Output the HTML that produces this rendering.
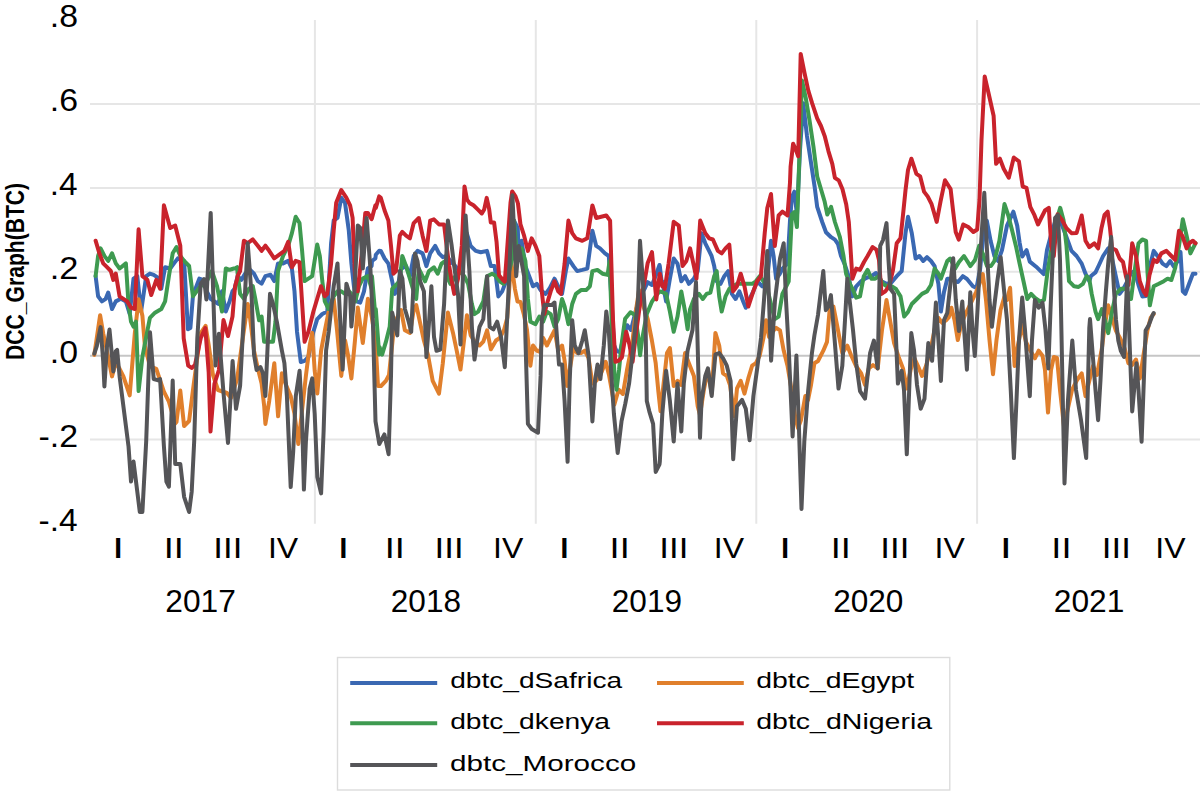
<!DOCTYPE html>
<html><head><meta charset="utf-8"><style>
html,body{margin:0;padding:0;background:#fff;width:1200px;height:791px;overflow:hidden}
svg{display:block}
text{font-family:"Liberation Sans",sans-serif;fill:#000}
</style></head><body>
<svg width="1200" height="791" viewBox="0 0 1200 791">
<line x1="90" y1="104.0" x2="1200" y2="104.0" stroke="#e6e6e6" stroke-width="2"/>
<line x1="90" y1="187.9" x2="1200" y2="187.9" stroke="#e6e6e6" stroke-width="2"/>
<line x1="90" y1="271.8" x2="1200" y2="271.8" stroke="#e6e6e6" stroke-width="2"/>
<line x1="90" y1="439.6" x2="1200" y2="439.6" stroke="#e6e6e6" stroke-width="2"/>
<line x1="314.9" y1="20" x2="314.9" y2="523.8" stroke="#e6e6e6" stroke-width="2"/>
<line x1="535.8" y1="20" x2="535.8" y2="523.8" stroke="#e6e6e6" stroke-width="2"/>
<line x1="756.3" y1="20" x2="756.3" y2="523.8" stroke="#e6e6e6" stroke-width="2"/>
<line x1="977.1" y1="20" x2="977.1" y2="523.8" stroke="#e6e6e6" stroke-width="2"/>
<line x1="90" y1="355.7" x2="1200" y2="355.7" stroke="#c6c6c6" stroke-width="2"/>
<path d="M95.6,276.1 L98.1,296.3 L101.9,301.4 L105.7,298.8 L108.2,292.5 L112.0,309.0 L115.8,301.4 L120.9,298.8 L125.9,301.4 L129.7,314.0 L133.5,278.6 L137.3,276.1 L141.1,311.5 L146.2,276.1 L149.9,273.6 L153.7,274.8 L157.5,277.3 L161.3,288.7 L165.1,267.2 L170.2,268.5 L174.0,263.4 L177.8,258.4 L184.1,260.9 L187.9,329.2 L190.4,327.9 L192.9,296.3 L195.5,288.7 L199.3,278.6 L203.0,279.9 L206.8,291.3 L210.6,298.8 L214.4,301.4 L218.2,303.9 L222.0,291.3 L225.8,311.5 L229.6,301.4 L232.5,291.3 L234.6,288.7 L237.6,276.1 L241.4,279.9 L245.2,273.6 L250.2,269.8 L254.0,273.6 L257.8,281.1 L261.6,283.7 L265.4,276.1 L270.5,274.8 L274.2,281.1 L278.0,263.4 L283.1,263.4 L288.2,260.9 L291.9,268.5 L294.5,291.3 L297.0,331.7 L300.8,362.0 L304.6,360.8 L308.4,357.0 L313.4,331.7 L317.2,319.1 L322.3,314.0 L327.3,311.5 L331.1,243.2 L333.7,220.5 L337.5,217.9 L341.3,197.7 L345.0,202.8 L348.8,230.6 L351.4,263.4 L353.9,286.2 L356.4,301.4 L360.2,302.6 L364.0,291.3 L367.8,268.5 L371.6,266.0 L372.0,261.0 L375.4,258.4 L375.8,254.7 L379.2,250.8 L380.8,250.9 L384.6,258.5 L388.4,263.6 L392.2,281.3 L394.8,293.9 L397.3,288.8 L401.1,268.6 L406.1,266.1 L409.9,276.2 L413.7,256.0 L417.5,250.9 L422.6,253.4 L426.4,266.1 L430.2,253.4 L435.2,245.9 L439.0,253.4 L442.8,257.2 L446.6,256.0 L450.4,261.0 L455.4,266.1 L459.2,271.1 L463.0,245.9 L466.8,233.2 L470.6,245.9 L475.7,250.9 L480.7,252.2 L487.0,250.9 L490.8,266.1 L494.6,266.1 L498.4,296.4 L502.2,291.4 L506.0,281.3 L509.8,261.0 L513.6,256.0 L514.0,220.6 L517.8,228.2 L518.6,253.4 L521.6,240.8 L525.4,266.1 L529.2,276.2 L533.0,286.3 L536.8,283.8 L540.5,290.1 L545.6,293.9 L549.4,288.8 L554.5,278.7 L558.2,286.3 L562.0,293.9 L565.8,271.1 L568.4,258.5 L573.4,266.1 L577.2,271.1 L582.3,269.9 L587.3,268.6 L592.4,230.7 L596.2,245.9 L600.0,248.4 L605.0,253.4 L608.8,256.0 L611.3,296.4 L614.0,345.0 L616.5,351.0 L620.0,352.0 L624.0,335.0 L627.2,325.2 L631.0,330.0 L636.0,310.0 L641.0,295.0 L645.0,288.0 L647.7,282.2 L652.0,285.0 L656.0,275.0 L659.5,265.0 L659.8,266.1 L662.0,285.0 L662.3,281.3 L666.1,301.5 L669.9,278.7 L673.7,258.5 L677.5,263.6 L681.3,281.3 L685.1,276.2 L688.9,283.8 L693.9,278.7 L697.7,271.1 L701.5,233.2 L705.3,243.3 L709.1,250.9 L711.6,256.0 L714.2,266.1 L716.7,281.3 L720.5,283.8 L724.3,276.2 L728.1,271.1 L731.9,293.9 L735.6,299.0 L739.4,291.4 L743.2,301.5 L745.8,307.8 L749.6,299.0 L753.3,291.4 L757.1,281.3 L762.2,286.3 L767.3,278.7 L771.0,240.8 L773.6,256.0 L776.1,278.7 L779.9,273.7 L782.4,268.6 L787.5,263.6 L790.0,220.6 L791.9,196.8 L794.4,191.7 L797.0,215.0 L800.0,150.0 L803.2,103.2 L807.0,136.1 L810.8,161.4 L814.6,186.6 L817.2,206.9 L822.2,222.0 L826.0,232.2 L831.1,237.2 L834.9,239.7 L838.0,244.0 L841.0,256.0 L845.0,265.0 L848.6,276.2 L852.4,296.4 L856.2,286.3 L861.2,281.2 L866.0,278.0 L871.4,276.2 L876.0,273.0 L881.5,281.2 L886.5,283.8 L891.0,283.0 L896.7,276.2 L901.7,271.1 L905.5,233.2 L908.0,216.8 L911.8,233.2 L915.6,258.5 L919.4,256.0 L923.2,261.0 L927.0,257.2 L931.0,261.0 L934.6,266.1 L938.4,283.8 L940.9,311.6 L944.0,292.0 L947.3,278.7 L950.1,278.7 L955.0,281.0 L958.0,282.0 L962.8,276.2 L967.0,279.0 L972.9,286.3 L976.5,288.0 L980.0,270.0 L983.0,240.0 L986.8,220.6 L990.6,240.8 L994.4,256.0 L998.2,261.0 L1002.0,250.0 L1007.0,225.6 L1013.4,211.7 L1017.2,225.6 L1019.6,242.6 L1022.2,256.5 L1026.6,250.2 L1029.8,261.6 L1036.1,266.7 L1043.7,274.2 L1047.0,250.0 L1051.0,235.0 L1055.0,222.0 L1058.5,215.0 L1062.0,225.0 L1067.8,240.8 L1071.5,250.9 L1076.6,256.0 L1081.7,263.6 L1085.5,273.7 L1089.3,281.2 L1091.0,276.0 L1095.5,272.4 L1099.0,265.0 L1103.1,256.0 L1108.2,248.4 L1111.5,256.0 L1115.5,275.0 L1119.6,293.9 L1123.4,288.8 L1127.0,282.0 L1131.0,273.0 L1134.7,271.1 L1138.5,285.0 L1142.3,296.4 L1146.0,296.0 L1149.9,266.0 L1153.7,250.9 L1157.5,256.0 L1162.6,263.6 L1166.4,266.1 L1170.2,261.0 L1174.0,267.0 L1177.8,261.0 L1180.5,252.0 L1182.8,291.4 L1185.3,293.9 L1189.1,283.8 L1192.9,273.7 L1195.5,273.7" fill="none" stroke="#3a68b2" stroke-width="4.0" stroke-linejoin="round" stroke-linecap="round"/>
<path d="M94.3,354.9 L100.1,315.2 L103.2,333.4 L107.0,351.1 L112.0,376.4 L115.8,362.5 L119.6,368.8 L123.4,376.4 L129.7,395.4 L134.8,333.4 L138.6,299.3 L142.4,315.7 L144.9,346.1 L149.9,366.3 L156.3,368.8 L163.9,391.6 L168.9,401.7 L175.2,423.4 L176.5,421.9 L180.3,390.6 L184.1,426.0 L189.1,421.0 L192.9,390.6 L200.5,333.4 L205.6,325.9 L208.7,345.0 L213.0,375.0 L218.0,390.0 L226.9,393.0 L231.0,398.0 L237.1,379.2 L242.8,338.3 L247.7,303.9 L250.2,319.0 L254.0,350.6 L257.8,368.3 L261.6,383.4 L264.2,406.2 L265.4,423.9 L269.2,401.1 L274.3,363.2 L278.1,416.3 L281.9,373.3 L286.0,385.0 L290.7,396.0 L294.5,413.8 L298.3,444.1 L305.9,375.9 L309.7,345.5 L312.2,332.9 L314.7,370.8 L317.3,393.6 L321.1,350.6 L324.9,330.3 L328.7,311.5 L333.7,298.8 L337.0,330.0 L341.3,375.9 L345.1,340.5 L348.0,355.0 L351.4,378.4 L355.0,340.0 L357.8,307.6 L362.8,343.0 L367.9,298.8 L371.7,316.5 L375.5,341.8 L378.0,386.0 L381.0,386.0 L385.9,380.9 L389.0,375.0 L393.5,331.8 L397.0,318.0 L401.1,310.1 L404.9,330.3 L410.0,332.9 L413.7,310.1 L416.3,305.1 L420.1,322.8 L423.9,340.5 L428.0,355.0 L432.7,380.9 L439.0,393.6 L442.8,363.2 L447.9,312.6 L453.0,332.9 L456.7,350.6 L460.5,369.5 L464.3,337.9 L466.9,315.2 L470.7,335.4 L475.0,342.0 L479.5,345.5 L483.3,341.7 L487.1,330.3 L490.9,349.3 L496.0,340.5 L499.8,337.9 L504.0,330.0 L507.3,317.7 L511.1,261.0 L514.9,288.8 L517.5,301.5 L520.5,302.0 L524.0,315.0 L527.0,330.0 L530.4,365.7 L533.0,345.5 L536.8,350.6 L540.0,352.0 L543.1,337.9 L546.9,345.5 L550.7,337.9 L554.5,330.3 L558.3,350.6 L562.1,345.5 L564.6,360.7 L567.1,386.0 L570.0,368.0 L573.4,348.0 L577.2,353.1 L581.0,353.1 L584.8,350.6 L588.6,358.2 L592.4,383.4 L596.2,380.9 L600.0,375.9 L605.7,361.8 L609.0,375.0 L614.3,404.7 L618.6,389.7 L622.9,394.0 L627.0,370.0 L632.0,345.0 L636.0,310.0 L639.1,290.0 L643.0,305.0 L647.7,318.8 L651.9,340.5 L655.7,363.2 L658.4,391.8 L660.5,411.2 L664.0,380.0 L667.0,353.0 L669.9,348.0 L673.7,386.0 L677.5,380.9 L681.0,385.0 L685.1,353.1 L688.9,363.2 L693.9,375.9 L697.7,406.2 L700.0,415.0 L704.1,388.5 L708.0,370.0 L711.7,393.6 L715.4,332.9 L719.2,345.5 L723.0,373.3 L726.8,375.9 L730.0,385.0 L734.4,416.3 L737.0,388.5 L740.7,380.9 L744.5,393.6 L748.3,378.4 L752.1,365.7 L755.9,363.2 L759.7,355.6 L763.5,337.9 L766.0,320.2 L769.0,337.0 L772.0,332.0 L776.2,327.8 L780.0,330.3 L783.7,350.6 L787.5,365.7 L791.3,388.5 L795.1,416.3 L798.0,428.0 L801.0,420.0 L805.3,396.0 L808.0,400.0 L811.0,385.0 L814.4,363.3 L818.0,361.0 L823.3,350.7 L827.0,341.9 L829.6,310.2 L833.4,306.5 L837.0,325.0 L842.3,353.2 L847.3,345.6 L851.0,355.0 L856.0,366.0 L861.2,373.4 L865.0,385.0 L868.8,368.4 L873.0,365.0 L877.7,368.4 L882.0,330.0 L886.5,300.1 L890.0,320.0 L894.1,343.1 L899.0,358.0 L903.0,368.4 L906.8,388.6 L910.6,370.0 L914.4,358.3 L918.0,366.0 L922.0,376.0 L926.0,366.0 L930.0,352.0 L935.0,328.0 L938.5,318.0 L942.2,322.9 L946.0,320.3 L948.7,317.4 L951.4,307.7 L954.5,320.0 L957.8,340.1 L961.0,325.0 L965.0,315.0 L970.0,305.0 L976.0,292.3 L979.0,285.0 L982.8,274.1 L986.0,300.0 L989.5,340.0 L993.0,374.3 L996.5,340.0 L1000.5,310.0 L1004.4,296.9 L1007.0,300.0 L1010.1,287.8 L1012.5,330.0 L1014.6,365.9 L1018.0,345.0 L1022.0,325.0 L1026.0,342.0 L1030.0,350.0 L1034.9,358.3 L1038.7,350.7 L1042.5,355.7 L1045.0,370.0 L1048.0,412.6 L1051.0,370.0 L1053.8,357.0 L1057.0,358.0 L1060.0,390.0 L1064.0,426.5 L1068.0,408.0 L1072.0,390.0 L1077.0,380.0 L1081.7,373.4 L1085.5,396.2 L1089.5,380.0 L1093.0,365.9 L1097.0,375.0 L1101.9,348.2 L1104.4,327.9 L1108.2,305.2 L1112.0,318.0 L1115.8,330.5 L1120.0,338.0 L1124.6,348.2 L1128.4,363.3 L1132.0,365.0 L1136.0,359.5 L1139.8,378.5 L1143.5,355.0 L1147.4,330.5 L1150.7,317.8 L1153.7,314.0" fill="none" stroke="#e07f2c" stroke-width="4.0" stroke-linejoin="round" stroke-linecap="round"/>
<path d="M95.6,276.1 L98.1,255.9 L100.6,248.3 L104.4,255.9 L108.2,260.9 L112.0,253.3 L115.8,263.4 L119.6,268.5 L125.9,263.4 L128.5,303.9 L131.0,321.6 L133.5,326.6 L136.0,321.6 L138.6,391.1 L142.4,357.0 L146.2,336.8 L149.9,317.8 L155.0,312.7 L161.3,309.0 L165.1,301.4 L168.9,276.1 L172.7,253.3 L176.5,247.0 L180.3,255.9 L184.1,260.9 L189.1,266.0 L192.9,296.3 L196.7,291.3 L200.5,286.2 L205.6,283.7 L211.9,271.0 L217.0,286.2 L222.0,311.5 L225.8,268.5 L229.6,269.8 L232.5,269.0 L233.4,268.5 L235.1,268.5 L237.2,267.2 L237.6,273.6 L240.1,293.8 L243.9,298.8 L249.0,288.7 L252.8,286.2 L255.3,298.8 L259.1,320.3 L261.6,316.5 L264.1,341.8 L269.2,341.8 L273.0,341.8 L275.5,321.6 L278.0,271.0 L283.1,255.9 L288.2,245.7 L291.9,233.1 L295.7,216.7 L299.5,223.0 L302.1,250.8 L304.6,281.1 L308.4,278.6 L312.2,276.1 L317.2,244.5 L319.8,255.9 L322.3,281.1 L324.8,301.4 L328.6,309.0 L333.7,296.3 L337.5,291.3 L341.3,291.3 L345.0,293.8 L348.8,291.3 L351.4,293.8 L355.2,301.4 L359.0,286.2 L362.7,278.6 L367.8,276.1 L371.6,288.7 L372.0,276.2 L375.4,316.5 L375.8,309.1 L379.2,354.5 L379.6,347.0 L382.1,354.6 L385.9,341.9 L389.7,326.8 L392.2,288.8 L396.0,285.0 L399.8,281.3 L402.3,256.0 L406.1,266.1 L409.9,278.7 L413.7,291.4 L416.2,299.0 L418.8,268.6 L421.3,273.7 L425.1,281.3 L428.9,271.1 L433.9,267.3 L437.7,273.7 L441.5,263.6 L445.3,261.0 L447.9,278.7 L450.4,283.8 L455.4,276.2 L459.2,271.1 L464.3,276.2 L468.1,283.8 L471.9,304.0 L474.4,314.1 L478.2,311.6 L483.3,301.5 L487.0,276.2 L492.1,273.7 L495.9,276.2 L499.7,281.3 L503.5,283.8 L508.5,273.7 L512.3,258.5 L514.0,220.6 L517.4,258.5 L521.6,248.4 L525.4,261.0 L527.9,299.0 L530.4,321.7 L535.5,324.2 L539.3,316.6 L543.1,321.7 L546.9,311.6 L550.7,314.1 L554.5,326.8 L558.2,319.2 L562.0,299.0 L564.6,306.5 L568.4,324.2 L572.2,304.0 L575.9,293.9 L581.0,290.1 L586.1,290.1 L589.9,286.3 L592.4,271.1 L597.4,269.9 L602.5,273.7 L607.6,274.9 L609.6,261.0 L612.0,330.0 L614.5,375.0 L616.5,389.7 L619.0,370.0 L621.5,345.0 L625.1,318.8 L630.5,312.3 L635.0,315.0 L638.0,335.0 L640.1,355.3 L642.0,340.0 L646.6,314.5 L652.0,301.6 L656.3,295.1 L659.8,291.4 L662.0,292.0 L666.1,293.9 L669.9,311.6 L673.7,331.8 L677.5,316.6 L681.3,291.4 L685.1,311.6 L687.6,329.3 L690.1,309.1 L693.9,299.0 L699.0,293.9 L702.8,299.0 L706.6,293.9 L710.4,292.6 L714.2,276.2 L716.7,271.1 L719.2,296.4 L721.7,311.6 L725.5,296.4 L729.3,288.8 L733.1,286.3 L736.9,283.8 L740.7,283.8 L744.5,283.8 L748.3,283.8 L752.1,283.8 L755.9,281.3 L759.7,276.2 L763.5,281.3 L767.3,288.8 L771.0,304.0 L774.8,319.2 L778.6,316.6 L782.4,293.9 L785.0,288.8 L788.7,281.3 L791.9,214.5 L794.4,212.0 L796.9,227.1 L799.4,156.3 L802.0,80.5 L805.8,98.2 L809.6,120.9 L813.4,146.2 L817.2,176.5 L821.0,189.2 L824.7,201.8 L827.3,214.5 L831.1,206.9 L834.9,222.0 L839.9,237.2 L843.5,256.0 L846.1,273.7 L849.9,283.8 L853.0,290.0 L856.2,297.7 L860.0,296.4 L863.8,276.2 L867.6,269.9 L871.4,278.7 L875.2,278.7 L879.0,276.0 L882.7,283.8 L886.5,286.0 L891.6,286.3 L896.0,289.0 L900.5,296.4 L904.2,316.6 L908.0,312.0 L911.8,304.0 L916.9,299.0 L922.0,293.9 L927.0,291.4 L931.0,285.0 L934.6,268.6 L938.0,273.0 L940.9,278.7 L944.0,270.0 L947.3,261.0 L950.1,258.5 L955.2,268.6 L959.0,262.0 L964.0,256.0 L970.4,266.1 L975.0,260.0 L979.2,245.9 L983.0,254.0 L987.0,266.0 L991.0,266.0 L994.4,261.0 L999.4,240.8 L1004.5,204.1 L1008.3,215.5 L1012.0,230.0 L1015.9,245.9 L1019.5,263.0 L1023.5,281.2 L1027.3,299.0 L1031.1,293.9 L1035.0,298.0 L1040.0,301.5 L1044.0,300.0 L1047.5,272.0 L1052.0,245.0 L1056.0,222.0 L1060.2,207.9 L1063.5,220.0 L1066.5,246.0 L1069.0,281.2 L1074.1,286.3 L1078.5,287.0 L1082.9,283.8 L1086.7,276.2 L1089.3,279.0 L1091.7,293.9 L1095.5,311.6 L1098.1,319.2 L1101.9,309.1 L1105.0,320.0 L1108.2,333.1 L1112.0,312.0 L1115.8,293.9 L1120.8,288.8 L1126.0,288.8 L1131.0,299.0 L1134.5,272.0 L1138.5,243.3 L1142.3,239.5 L1146.1,240.8 L1147.5,272.0 L1149.9,305.3 L1153.7,286.3 L1158.8,283.8 L1163.8,281.2 L1167.6,278.7 L1171.4,280.0 L1175.2,268.0 L1179.0,245.9 L1182.8,219.3 L1186.6,235.7 L1190.4,253.4 L1194.2,245.9 L1195.5,243.0" fill="none" stroke="#3e9a50" stroke-width="4.0" stroke-linejoin="round" stroke-linecap="round"/>
<path d="M95.6,240.7 L99.4,253.3 L103.2,263.4 L107.0,267.2 L110.8,271.0 L113.3,279.9 L115.8,273.6 L119.6,296.3 L123.4,298.8 L127.2,301.4 L131.0,307.7 L134.8,309.0 L138.6,229.3 L142.4,276.1 L147.4,279.9 L151.2,295.0 L156.3,279.9 L160.1,288.7 L163.9,205.3 L170.2,228.0 L175.2,225.5 L180.3,245.7 L183.7,338.3 L188.2,365.6 L191.6,367.9 L195.0,365.0 L200.7,338.3 L205.3,328.0 L208.7,372.4 L210.5,431.6 L214.4,383.8 L218.9,370.0 L223.5,320.0 L228.0,336.0 L232.5,316.5 L233.7,301.9 L235.1,286.2 L237.1,279.1 L237.6,276.1 L240.1,271.0 L243.9,240.7 L247.7,243.2 L252.8,239.4 L257.8,245.7 L261.6,250.8 L265.4,245.7 L269.2,250.8 L274.2,258.4 L279.3,254.6 L284.4,250.8 L288.2,241.9 L291.9,267.2 L295.7,260.9 L299.5,262.2 L304.6,341.8 L308.4,331.7 L313.4,311.5 L317.2,298.8 L321.0,286.2 L324.8,296.3 L327.3,293.8 L331.1,263.4 L333.7,230.6 L336.2,202.8 L341.3,190.1 L346.3,197.7 L350.1,205.3 L352.6,217.9 L355.2,281.1 L357.7,291.3 L361.5,255.9 L365.3,212.9 L367.8,212.9 L371.6,219.2 L372.0,218.0 L375.4,205.3 L375.8,207.9 L379.2,196.4 L380.8,197.8 L384.6,210.5 L388.4,220.6 L391.0,245.9 L393.5,273.7 L396.0,271.1 L399.8,235.7 L402.3,231.9 L406.1,235.7 L409.9,238.3 L413.7,223.1 L418.8,218.0 L422.6,235.7 L426.4,250.9 L430.2,220.6 L433.9,219.3 L439.0,224.4 L444.1,224.4 L446.6,245.9 L449.2,266.1 L451.7,281.2 L454.2,293.9 L458.0,278.7 L461.8,245.9 L464.5,186.4 L467.0,199.6 L469.4,202.9 L473.5,205.3 L477.7,209.4 L481.8,213.5 L484.2,209.4 L486.7,197.9 L489.2,209.4 L490.8,222.6 L494.1,222.6 L496.6,242.3 L499.0,275.2 L502.3,279.3 L504.8,281.7 L510.5,202.9 L512.2,191.4 L515.5,196.3 L517.8,202.9 L517.9,202.9 L520.3,223.1 L520.4,224.2 L524.1,235.7 L527.9,250.9 L531.7,238.3 L535.5,245.9 L539.3,256.0 L541.8,291.4 L544.3,314.1 L546.9,304.0 L550.7,291.4 L554.5,281.3 L558.2,291.4 L560.8,293.9 L564.6,263.6 L568.4,220.6 L572.2,233.2 L575.9,238.3 L582.3,240.8 L587.3,238.3 L592.4,205.4 L596.2,218.0 L601.2,216.8 L606.3,215.5 L610.1,220.6 L613.0,320.0 L615.4,361.8 L618.6,360.7 L621.9,357.5 L626.2,331.7 L629.4,344.6 L632.6,361.8 L636.5,330.0 L640.1,303.7 L644.4,282.2 L647.7,262.9 L652.0,252.1 L654.0,275.0 L656.3,299.4 L659.5,275.8 L659.8,273.7 L662.3,286.3 L663.0,285.0 L664.8,288.8 L668.6,263.6 L673.7,221.8 L678.8,225.6 L682.5,266.1 L686.3,261.0 L690.1,248.4 L693.9,266.1 L696.5,278.7 L700.2,220.6 L705.3,233.2 L709.1,238.3 L712.9,239.5 L717.9,250.9 L721.7,253.4 L725.5,248.4 L729.3,244.6 L733.1,291.4 L736.9,286.3 L740.7,273.7 L744.5,286.3 L748.3,306.5 L753.3,291.4 L757.1,281.3 L760.9,276.2 L764.7,233.2 L767.3,207.9 L771.0,194.0 L774.8,245.9 L778.6,215.5 L782.4,211.7 L787.5,215.5 L790.0,182.6 L790.6,166.4 L793.1,143.7 L796.0,150.0 L798.2,156.3 L800.7,53.9 L804.5,72.9 L808.3,90.6 L812.1,103.2 L817.2,118.4 L821.0,126.0 L824.7,136.1 L828.5,151.3 L832.3,163.9 L834.9,177.8 L838.7,180.3 L842.5,189.2 L846.2,204.3 L848.8,222.0 L850.0,239.7 L852.4,278.7 L856.2,268.6 L860.0,269.9 L864.0,262.0 L867.6,256.0 L872.6,247.1 L876.4,249.6 L879.0,260.0 L881.5,293.9 L885.3,291.4 L889.1,286.3 L893.0,270.0 L896.7,243.3 L900.5,238.3 L903.0,215.0 L905.5,190.2 L908.0,170.0 L911.4,158.7 L916.4,173.9 L920.2,176.4 L924.0,191.6 L927.8,196.6 L931.6,204.2 L936.7,221.9 L940.5,201.7 L945.0,180.2 L950.6,189.1 L953.0,210.0 L955.7,232.0 L958.7,239.6 L963.2,224.5 L968.3,227.0 L973.4,232.0 L977.2,229.5 L979.5,200.0 L981.5,140.0 L984.7,76.5 L988.5,93.0 L993.6,115.7 L996.1,163.8 L999.9,158.7 L1003.7,168.8 L1008.8,177.7 L1013.8,157.5 L1018.9,161.3 L1022.7,186.5 L1026.5,187.8 L1030.3,206.8 L1034.1,214.3 L1038.0,224.5 L1041.2,218.0 L1045.0,210.5 L1048.8,207.9 L1051.3,245.9 L1053.8,256.0 L1057.6,214.2 L1062.0,220.0 L1066.5,228.2 L1071.5,233.2 L1076.6,233.0 L1081.7,215.5 L1085.5,240.8 L1089.3,247.1 L1094.3,243.3 L1098.1,248.4 L1101.5,228.0 L1104.5,215.0 L1107.7,211.7 L1110.0,228.0 L1112.0,248.4 L1116.0,250.0 L1119.6,258.5 L1123.0,262.0 L1125.9,276.2 L1128.5,285.0 L1132.2,243.3 L1136.0,256.0 L1139.8,281.2 L1143.6,291.4 L1146.1,295.2 L1149.5,275.0 L1153.7,259.8 L1157.0,262.0 L1161.3,253.4 L1166.4,250.9 L1171.4,256.0 L1175.2,259.8 L1179.0,230.7 L1182.5,236.0 L1186.6,248.4 L1189.5,243.0 L1192.9,240.8 L1195.5,243.3" fill="none" stroke="#c9232c" stroke-width="4.0" stroke-linejoin="round" stroke-linecap="round"/>
<path d="M94.3,353.7 L96.8,346.1 L100.6,327.1 L103.2,361.3 L104.4,386.5 L107.0,346.1 L109.5,329.6 L112.0,356.2 L113.3,371.4 L115.8,351.1 L117.1,349.9 L119.6,376.4 L128.5,446.2 L131.0,481.6 L133.5,461.4 L137.3,491.7 L139.8,512.0 L142.4,512.0 L146.2,441.1 L150.0,332.2 L153.7,379.0 L157.5,380.2 L160.1,379.0 L163.9,446.2 L166.4,481.6 L168.9,486.6 L172.7,380.5 L175.2,463.9 L180.3,463.9 L184.1,496.8 L189.1,512.0 L191.7,491.7 L194.2,441.1 L197.3,338.3 L200.7,283.7 L204.1,279.1 L206.4,299.6 L210.7,212.9 L215.5,365.6 L218.9,333.7 L223.5,392.9 L228.0,443.0 L232.6,361.0 L236.0,408.8 L240.1,386.0 L242.6,337.9 L247.7,243.2 L251.5,293.8 L254.0,354.5 L256.6,370.0 L260.4,367.0 L262.9,373.3 L265.4,396.0 L268.0,337.9 L270.0,293.8 L273.0,303.9 L276.8,321.6 L281.9,350.6 L284.4,363.2 L286.9,396.0 L290.7,487.1 L293.2,451.7 L295.8,396.0 L299.6,370.8 L302.1,418.8 L303.9,489.6 L305.9,441.6 L309.7,388.5 L312.2,378.4 L314.7,413.8 L317.3,477.0 L321.1,493.4 L323.6,431.5 L326.1,350.6 L328.7,331.7 L333.7,286.2 L337.5,263.4 L340.0,316.5 L342.6,369.6 L346.4,283.7 L350.2,296.3 L351.4,326.6 L354.0,298.8 L357.8,225.5 L360.3,228.0 L362.8,268.5 L366.6,217.9 L370.4,268.5 L372.9,321.6 L375.5,421.4 L379.3,444.0 L384.4,434.4 L388.6,454.2 L391.0,375.9 L392.2,312.6 L397.3,335.4 L399.8,271.1 L402.4,278.7 L404.9,309.0 L408.7,321.7 L411.2,331.8 L415.0,253.4 L417.5,261.0 L420.1,281.2 L423.9,291.4 L426.4,357.1 L428.9,324.2 L431.4,286.3 L434.0,336.9 L436.5,350.8 L440.3,349.5 L444.1,304.0 L447.9,220.6 L451.7,245.9 L454.2,266.1 L458.0,293.9 L460.5,344.5 L463.1,271.1 L465.6,215.5 L469.4,271.1 L471.9,326.8 L474.5,359.6 L477.0,341.9 L479.5,326.8 L483.3,319.2 L487.1,276.2 L489.6,326.8 L493.4,329.3 L497.2,321.7 L501.0,336.9 L504.8,367.2 L508.6,288.8 L512.4,195.3 L516.2,276.2 L518.7,245.9 L524.1,276.2 L525.4,337.9 L527.9,423.9 L531.7,429.0 L538.0,432.7 L540.6,375.9 L541.8,320.2 L544.4,305.0 L548.2,305.0 L552.0,305.0 L554.5,302.5 L557.0,337.9 L559.0,364.5 L562.1,364.5 L564.6,401.1 L567.6,461.8 L569.7,380.9 L572.2,320.2 L574.7,345.5 L578.5,353.1 L582.3,340.5 L584.8,330.3 L588.6,355.6 L592.4,421.4 L595.0,380.9 L597.5,364.5 L600.4,379.0 L603.8,345.5 L606.3,311.4 L608.9,332.9 L611.4,375.9 L613.9,413.8 L617.7,453.0 L621.5,421.4 L625.3,403.7 L629.1,383.4 L632.9,350.6 L635.4,325.3 L638.0,300.0 L640.0,240.8 L643.0,283.8 L645.5,320.0 L646.8,401.1 L649.3,411.3 L653.1,423.9 L655.7,471.9 L659.5,464.3 L659.8,461.8 L662.3,413.8 L666.1,370.8 L669.9,401.1 L673.7,441.6 L677.5,383.4 L681.3,431.5 L683.8,383.4 L687.6,350.6 L692.5,330.0 L696.0,282.0 L698.3,370.0 L700.0,437.8 L701.5,401.1 L705.3,375.9 L707.9,368.3 L711.7,396.0 L715.4,354.4 L719.2,353.1 L723.0,358.2 L726.8,365.7 L730.6,380.9 L733.2,459.3 L737.0,406.2 L742.0,399.9 L745.8,408.7 L749.6,440.3 L753.4,396.0 L757.2,368.3 L761.0,337.9 L764.0,300.0 L767.3,250.9 L771.1,360.7 L775.0,300.0 L780.0,258.5 L783.7,243.3 L786.0,300.0 L788.8,350.6 L792.6,436.5 L796.4,355.6 L798.9,426.4 L801.5,509.0 L804.3,441.7 L808.1,391.1 L811.9,353.2 L814.4,335.5 L818.0,315.0 L823.3,271.1 L825.8,310.2 L828.4,306.5 L830.9,295.1 L834.7,340.6 L838.5,388.6 L842.3,365.9 L845.0,320.0 L847.3,278.7 L849.9,302.6 L853.0,330.0 L856.2,363.3 L860.0,391.1 L865.0,398.7 L870.1,353.2 L873.9,340.6 L877.7,368.4 L880.2,245.9 L883.0,240.0 L886.5,223.1 L888.5,260.0 L890.3,288.8 L894.1,293.9 L897.9,383.6 L901.7,370.9 L904.0,390.0 L906.8,454.3 L911.3,333.0 L914.0,350.0 L917.0,385.0 L920.7,408.8 L924.5,398.7 L928.3,343.1 L932.1,360.8 L935.9,302.6 L938.4,340.0 L940.9,381.0 L944.0,320.0 L947.3,312.8 L953.2,258.2 L955.8,300.0 L958.9,331.0 L962.3,301.4 L964.5,335.0 L966.9,369.7 L970.3,292.3 L972.5,330.0 L974.8,356.1 L977.5,310.0 L980.0,260.0 L984.3,192.8 L987.0,250.0 L989.5,300.0 L991.9,326.7 L995.0,300.0 L997.5,280.0 L1000.7,257.2 L1004.0,290.0 L1007.0,320.0 L1010.8,391.1 L1013.9,458.1 L1016.5,400.0 L1019.0,340.0 L1022.2,297.6 L1025.0,330.0 L1027.5,365.0 L1029.8,396.2 L1032.0,340.0 L1034.9,300.1 L1038.7,307.7 L1042.5,302.6 L1045.5,330.0 L1048.3,368.4 L1050.5,310.0 L1053.0,250.0 L1055.1,218.0 L1058.0,215.0 L1060.0,260.0 L1062.0,360.0 L1064.5,483.4 L1068.0,400.0 L1072.3,340.6 L1076.0,390.0 L1081.0,420.0 L1086.2,458.1 L1089.3,328.0 L1090.0,319.1 L1093.0,358.3 L1095.5,390.0 L1098.1,420.2 L1100.5,380.0 L1103.1,327.9 L1106.0,290.0 L1108.5,260.0 L1111.2,237.0 L1114.0,290.0 L1116.0,320.0 L1118.3,340.6 L1120.8,350.7 L1124.1,357.0 L1127.2,276.2 L1129.5,340.0 L1132.2,411.4 L1136.5,363.3 L1138.5,390.0 L1141.6,441.7 L1143.5,390.0 L1145.6,330.5 L1148.7,325.4 L1152.5,315.3 L1153.7,313.0" fill="none" stroke="#555558" stroke-width="4.0" stroke-linejoin="round" stroke-linecap="round"/>
<text x="49.75" y="27.10" font-size="30.6" textLength="28.24" lengthAdjust="spacingAndGlyphs">.8</text>
<text x="49.75" y="110.60" font-size="30.6" textLength="28.24" lengthAdjust="spacingAndGlyphs">.6</text>
<text x="49.80" y="194.50" font-size="30.6" textLength="27.84" lengthAdjust="spacingAndGlyphs">.4</text>
<text x="49.71" y="278.60" font-size="30.6" textLength="28.65" lengthAdjust="spacingAndGlyphs">.2</text>
<text x="49.75" y="362.70" font-size="30.6" textLength="28.24" lengthAdjust="spacingAndGlyphs">.0</text>
<text x="38.54" y="446.60" font-size="30.6" textLength="39.55" lengthAdjust="spacingAndGlyphs">-.2</text>
<text x="38.56" y="530.50" font-size="30.6" textLength="39.04" lengthAdjust="spacingAndGlyphs">-.4</text>
<text x="112.14" y="558.00" font-size="29.6" textLength="12.23" lengthAdjust="spacingAndGlyphs">I</text>
<text x="163.74" y="558.00" font-size="29.6" textLength="20.13" lengthAdjust="spacingAndGlyphs">II</text>
<text x="213.37" y="558.00" font-size="29.6" textLength="28.98" lengthAdjust="spacingAndGlyphs">III</text>
<text x="267.92" y="558.00" font-size="29.6" textLength="30.24" lengthAdjust="spacingAndGlyphs">IV</text>
<text x="165.32" y="612.10" font-size="31.0" textLength="70.52" lengthAdjust="spacingAndGlyphs">2017</text>
<text x="337.34" y="558.00" font-size="29.6" textLength="12.23" lengthAdjust="spacingAndGlyphs">I</text>
<text x="384.74" y="558.00" font-size="29.6" textLength="20.13" lengthAdjust="spacingAndGlyphs">II</text>
<text x="434.57" y="558.00" font-size="29.6" textLength="28.98" lengthAdjust="spacingAndGlyphs">III</text>
<text x="493.12" y="558.00" font-size="29.6" textLength="30.24" lengthAdjust="spacingAndGlyphs">IV</text>
<text x="390.82" y="612.10" font-size="31.0" textLength="70.19" lengthAdjust="spacingAndGlyphs">2018</text>
<text x="558.34" y="558.00" font-size="29.6" textLength="12.23" lengthAdjust="spacingAndGlyphs">I</text>
<text x="609.64" y="558.00" font-size="29.6" textLength="20.13" lengthAdjust="spacingAndGlyphs">II</text>
<text x="659.37" y="558.00" font-size="29.6" textLength="28.98" lengthAdjust="spacingAndGlyphs">III</text>
<text x="713.82" y="558.00" font-size="29.6" textLength="30.24" lengthAdjust="spacingAndGlyphs">IV</text>
<text x="611.82" y="612.10" font-size="31.0" textLength="70.19" lengthAdjust="spacingAndGlyphs">2019</text>
<text x="779.14" y="558.00" font-size="29.6" textLength="12.23" lengthAdjust="spacingAndGlyphs">I</text>
<text x="830.74" y="558.00" font-size="29.6" textLength="20.13" lengthAdjust="spacingAndGlyphs">II</text>
<text x="880.37" y="558.00" font-size="29.6" textLength="28.98" lengthAdjust="spacingAndGlyphs">III</text>
<text x="934.52" y="558.00" font-size="29.6" textLength="30.24" lengthAdjust="spacingAndGlyphs">IV</text>
<text x="833.22" y="612.10" font-size="31.0" textLength="70.19" lengthAdjust="spacingAndGlyphs">2020</text>
<text x="999.84" y="558.00" font-size="29.6" textLength="12.23" lengthAdjust="spacingAndGlyphs">I</text>
<text x="1051.34" y="558.00" font-size="29.6" textLength="20.13" lengthAdjust="spacingAndGlyphs">II</text>
<text x="1101.87" y="558.00" font-size="29.6" textLength="28.98" lengthAdjust="spacingAndGlyphs">III</text>
<text x="1155.32" y="558.00" font-size="29.6" textLength="30.23" lengthAdjust="spacingAndGlyphs">IV</text>
<text x="1053.82" y="612.10" font-size="31.0" textLength="70.52" lengthAdjust="spacingAndGlyphs">2021</text>
<text transform="translate(23.8,359.88) rotate(-90)" x="0" y="0" font-size="25.4" font-weight="bold" textLength="177.01" lengthAdjust="spacingAndGlyphs">DCC_Graph(BTC)</text>
<rect x="337.5" y="657.5" width="612.3" height="132.5" fill="none" stroke="#dcdcdc" stroke-width="1.4"/>
<line x1="350.2" y1="682.9" x2="437.2" y2="682.9" stroke="#3a68b2" stroke-width="4"/>
<text x="450.18" y="688.20" font-size="21.9" textLength="171.96" lengthAdjust="spacingAndGlyphs">dbtc_dSafrica</text>
<line x1="657.0" y1="682.9" x2="743.8" y2="682.9" stroke="#e07f2c" stroke-width="4"/>
<text x="756.26" y="688.20" font-size="21.9" textLength="157.81" lengthAdjust="spacingAndGlyphs">dbtc_dEgypt</text>
<line x1="350.2" y1="723.3" x2="437.2" y2="723.3" stroke="#3e9a50" stroke-width="4"/>
<text x="450.17" y="729.00" font-size="21.9" textLength="159.85" lengthAdjust="spacingAndGlyphs">dbtc_dkenya</text>
<line x1="657.0" y1="723.3" x2="743.8" y2="723.3" stroke="#c9232c" stroke-width="4"/>
<text x="756.26" y="729.00" font-size="21.9" textLength="175.85" lengthAdjust="spacingAndGlyphs">dbtc_dNigeria</text>
<line x1="350.2" y1="764.9" x2="437.2" y2="764.9" stroke="#555558" stroke-width="4"/>
<text x="450.11" y="770.60" font-size="21.9" textLength="186.09" lengthAdjust="spacingAndGlyphs">dbtc_Morocco</text>
</svg>
</body></html>
